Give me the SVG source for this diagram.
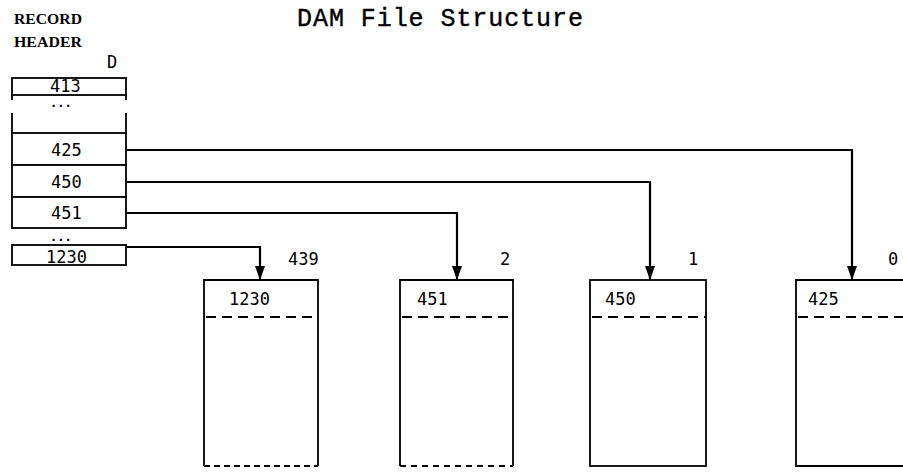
<svg xmlns="http://www.w3.org/2000/svg" width="903" height="472" viewBox="0 0 903 472">
<defs>
<marker id="ah" markerWidth="14" markerHeight="10" refX="14" refY="5" orient="auto" markerUnits="userSpaceOnUse" viewBox="0 0 14 10">
<path d="M0,0 L14,5 L0,10 Z" fill="#000"/>
</marker>
<style>
.box{fill:#fff;stroke:#000;stroke-width:1.8}
.ln{fill:none;stroke:#000;stroke-width:1.8}
.dash{fill:none;stroke:#000;stroke-width:2.2;stroke-dasharray:10,6}
.conn{fill:none;stroke:#000;stroke-width:2.2}
.num{font-family:"DejaVu Sans Mono","Liberation Mono",monospace;font-size:17px;fill:#000}
.dots{font-family:"DejaVu Sans Mono","Liberation Mono",monospace;font-size:12px;font-weight:bold;fill:#000}
.title{font-family:"Liberation Mono","Courier New",monospace;font-size:25px;fill:#000;stroke:#000;stroke-width:0.4}
.hdr{font-family:"Liberation Serif","Times New Roman",serif;font-size:15px;font-weight:bold;fill:#000}
</style>
</defs>
<rect width="903" height="472" fill="#fff"/>
<text class="title" x="297" y="26" textLength="286">DAM File Structure</text>
<g id="header-label">
<text class="hdr" x="14" y="24" textLength="68" lengthAdjust="spacingAndGlyphs">RECORD</text>
<text class="hdr" x="14" y="47" textLength="68" lengthAdjust="spacingAndGlyphs">HEADER</text>
<text class="num" x="107" y="68">D</text>
</g>
<g id="record-413">
<rect class="box" x="12" y="78" width="114" height="17"/>
<path class="ln" d="M12,95 V100 M126,95 V100"/>
<text class="num" x="50" y="92">413</text>
<text class="dots" x="50" y="107">...</text>
</g>
<g id="record-425">
<path class="ln" d="M12,113 V133 M126,113 V133"/>
<rect class="box" x="12" y="133" width="114" height="32"/>
<text class="num" x="51" y="156">425</text>
</g>
<g id="record-450">
<rect class="box" x="12" y="165" width="114" height="32"/>
<text class="num" x="51" y="188">450</text>
</g>
<g id="record-451">
<rect class="box" x="12" y="197" width="114" height="31"/>
<text class="num" x="51" y="219">451</text>
</g>
<g id="record-1230">
<text class="dots" x="50" y="241">...</text>
<rect class="box" x="12" y="245" width="114" height="20"/>
<text class="num" x="46" y="263">1230</text>
</g>
<g id="block-439">
<path class="ln" d="M204,466 V280 H318 V466"/>
<path class="dash" d="M206,317 H318"/>
<path class="ln" d="M204,466 H318" stroke-dasharray="6,4" stroke-width="1"/>
<text class="num" x="229" y="305">1230</text>
<text class="num" x="288" y="265">439</text>
</g>
<g id="block-2">
<path class="ln" d="M400,466 V280 H513 V466"/>
<path class="ln" d="M400,466 H513" stroke-dasharray="6,5" stroke-width="1"/>
<path class="dash" d="M402,317 H513"/>
<text class="num" x="417" y="305">451</text>
<text class="num" x="500" y="265">2</text>
</g>
<g id="block-1">
<rect class="box" x="590" y="280" width="116" height="186"/>
<path class="dash" d="M592,317 H706"/>
<text class="num" x="605" y="305">450</text>
<text class="num" x="688" y="265">1</text>
</g>
<g id="block-0">
<path class="ln" d="M905,280 H796 V466 H905" stroke-width="2.4"/>
<path class="dash" d="M798,317 H903"/>
<text class="num" x="808" y="305">425</text>
<text class="num" x="888" y="265">0</text>
</g>
<g id="connectors">
<path class="conn" d="M126,150 H852 V280" marker-end="url(#ah)"/>
<path class="conn" d="M126,182 H650 V280" marker-end="url(#ah)"/>
<path class="conn" d="M126,213 H457 V280" marker-end="url(#ah)"/>
<path class="conn" d="M126,247 H260 V280" marker-end="url(#ah)"/>
</g>
</svg>
